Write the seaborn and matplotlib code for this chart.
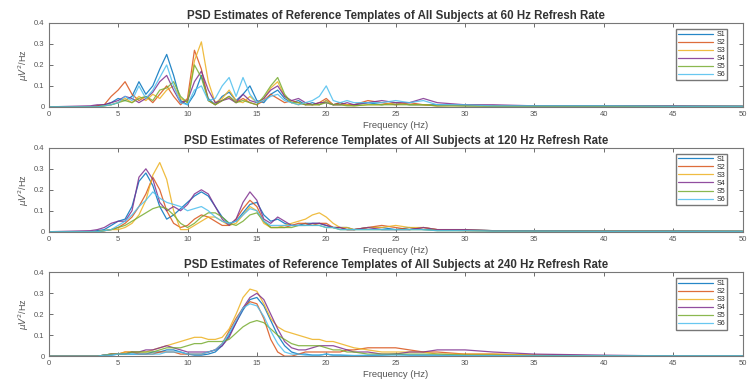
import numpy as np
import pandas as pd
import matplotlib
matplotlib.use('Agg')
import matplotlib.pyplot as plt
import seaborn as sns

sns.set_style('ticks')
plt.rcParams['font.family'] = ['Liberation Sans', 'DejaVu Sans']

# frequency grid (Hz), shared by all three panels
freq = [0, 3, 3.5,
        4, 4.5, 5, 5.5, 6, 6.5, 7, 7.5, 8,
        8.5, 9, 9.5, 10, 10.5, 11, 11.5, 12, 12.5,
        13, 13.5, 14, 14.5, 15, 15.5, 16, 16.5, 17,
        17.5, 18, 18.5, 19, 19.5, 20, 20.5, 21, 21.5, 22,
        23, 24, 25, 26, 27, 28, 30, 32, 35, 40, 45, 50]

subjects = ['S1', 'S2', 'S3', 'S4', 'S5', 'S6']
rates = ['60', '120', '240']

# 60 Hz refresh rate
psd_60 = {
    'S1': [0, 0, 0.005,
           0.01, 0.02, 0.04, 0.03, 0.05, 0.12, 0.06, 0.10, 0.18,
           0.25, 0.15, 0.03, 0.01, 0.06, 0.15, 0.04, 0.01, 0.05,
           0.07, 0.03, 0.06, 0.10, 0.03, 0.02, 0.06, 0.08, 0.04,
           0.02, 0.03, 0.01, 0.02, 0.01, 0.03, 0.01, 0.02, 0.01, 0.01,
           0.02, 0.01, 0.02, 0.01, 0.01, 0.01, 0.005, 0.005, 0.005, 0.005, 0.003, 0.003],
    'S2': [0, 0, 0.005,
           0.01, 0.05, 0.08, 0.12, 0.06, 0.03, 0.05, 0.02, 0.06,
           0.10, 0.05, 0.01, 0.04, 0.27, 0.18, 0.03, 0.01, 0.03,
           0.05, 0.02, 0.04, 0.02, 0.01, 0.03, 0.06, 0.04, 0.02,
           0.03, 0.02, 0.01, 0.01, 0.02, 0.04, 0.01, 0.02, 0.01, 0.01,
           0.03, 0.02, 0.01, 0.02, 0.01, 0.005, 0.01, 0.005, 0.005, 0.005, 0.003, 0.003],
    'S3': [0, 0, 0,
           0.005, 0.01, 0.02, 0.04, 0.02, 0.05, 0.03, 0.06, 0.04,
           0.08, 0.10, 0.04, 0.02, 0.22, 0.31, 0.12, 0.02, 0.04,
           0.08, 0.03, 0.02, 0.05, 0.02, 0.04, 0.09, 0.12, 0.05,
           0.02, 0.01, 0.02, 0.01, 0.01, 0.03, 0.01, 0.01, 0.01, 0.005,
           0.01, 0.01, 0.02, 0.01, 0.01, 0.005, 0.005, 0.005, 0.003, 0.003, 0.003, 0.002],
    'S4': [0, 0.005, 0.01,
           0.01, 0.02, 0.03, 0.05, 0.04, 0.02, 0.04, 0.07, 0.12,
           0.15, 0.08, 0.02, 0.03, 0.12, 0.17, 0.08, 0.02, 0.03,
           0.04, 0.02, 0.06, 0.03, 0.02, 0.04, 0.08, 0.10, 0.05,
           0.03, 0.04, 0.02, 0.01, 0.02, 0.02, 0.01, 0.01, 0.02, 0.01,
           0.02, 0.03, 0.02, 0.02, 0.04, 0.02, 0.01, 0.01, 0.005, 0.005, 0.005, 0.003],
    'S5': [0, 0, 0,
           0.005, 0.01, 0.02, 0.03, 0.02, 0.04, 0.05, 0.03, 0.08,
           0.09, 0.12, 0.05, 0.02, 0.20, 0.14, 0.03, 0.01, 0.03,
           0.05, 0.02, 0.03, 0.02, 0.01, 0.05, 0.10, 0.14, 0.06,
           0.02, 0.02, 0.01, 0.01, 0.01, 0.02, 0.01, 0.01, 0.005, 0.005,
           0.01, 0.01, 0.01, 0.01, 0.01, 0.005, 0.005, 0.003, 0.003, 0.003, 0.002, 0.002],
    'S6': [0, 0, 0,
           0.005, 0.01, 0.02, 0.05, 0.03, 0.10, 0.04, 0.08, 0.14,
           0.20, 0.10, 0.02, 0.01, 0.08, 0.10, 0.03, 0.04, 0.10,
           0.14, 0.05, 0.14, 0.06, 0.02, 0.03, 0.05, 0.06, 0.03,
           0.02, 0.01, 0.02, 0.03, 0.05, 0.10, 0.03, 0.02, 0.03, 0.02,
           0.02, 0.02, 0.03, 0.02, 0.03, 0.01, 0.01, 0.005, 0.005, 0.005, 0.003, 0.003],
}

# 120 Hz refresh rate
psd_120 = {
    'S1': [0, 0, 0.005,
           0.01, 0.03, 0.05, 0.06, 0.12, 0.24, 0.28, 0.22, 0.12,
           0.06, 0.08, 0.11, 0.14, 0.17, 0.19, 0.17, 0.12, 0.07,
           0.04, 0.05, 0.09, 0.13, 0.14, 0.08, 0.05, 0.06, 0.04,
           0.03, 0.03, 0.04, 0.04, 0.04, 0.03, 0.02, 0.02, 0.02, 0.01,
           0.02, 0.02, 0.01, 0.02, 0.01, 0.01, 0.01, 0.005, 0.005, 0.003, 0.003, 0.002],
    'S2': [0, 0, 0,
           0.005, 0.01, 0.02, 0.04, 0.07, 0.12, 0.18, 0.26, 0.20,
           0.10, 0.04, 0.02, 0.03, 0.06, 0.08, 0.07, 0.05, 0.03,
           0.03, 0.06, 0.11, 0.15, 0.12, 0.05, 0.02, 0.02, 0.02,
           0.03, 0.04, 0.04, 0.03, 0.04, 0.04, 0.02, 0.02, 0.01, 0.01,
           0.02, 0.03, 0.02, 0.01, 0.02, 0.01, 0.005, 0.005, 0.003, 0.003, 0.002, 0.002],
    'S3': [0, 0, 0,
           0.005, 0.01, 0.01, 0.02, 0.04, 0.08, 0.15, 0.27, 0.33,
           0.25, 0.10, 0.01, 0.01, 0.03, 0.05, 0.07, 0.07, 0.05,
           0.03, 0.04, 0.08, 0.12, 0.10, 0.04, 0.02, 0.02, 0.03,
           0.04, 0.05, 0.06, 0.08, 0.09, 0.07, 0.04, 0.02, 0.02, 0.01,
           0.02, 0.02, 0.03, 0.02, 0.02, 0.01, 0.01, 0.005, 0.005, 0.003, 0.003, 0.002],
    'S4': [0, 0.005, 0.01,
           0.02, 0.04, 0.05, 0.05, 0.10, 0.26, 0.30, 0.25, 0.14,
           0.10, 0.12, 0.10, 0.13, 0.18, 0.20, 0.18, 0.12, 0.06,
           0.03, 0.06, 0.14, 0.19, 0.15, 0.06, 0.04, 0.07, 0.05,
           0.03, 0.03, 0.03, 0.04, 0.04, 0.03, 0.02, 0.02, 0.01, 0.01,
           0.02, 0.01, 0.01, 0.01, 0.02, 0.01, 0.01, 0.005, 0.005, 0.003, 0.003, 0.002],
    'S5': [0, 0, 0,
           0.005, 0.01, 0.02, 0.03, 0.05, 0.07, 0.09, 0.11, 0.12,
           0.11, 0.08, 0.04, 0.02, 0.04, 0.07, 0.09, 0.09, 0.07,
           0.04, 0.03, 0.05, 0.08, 0.09, 0.05, 0.02, 0.02, 0.02,
           0.02, 0.03, 0.03, 0.03, 0.03, 0.02, 0.02, 0.01, 0.01, 0.01,
           0.01, 0.01, 0.01, 0.01, 0.01, 0.005, 0.005, 0.003, 0.003, 0.002, 0.002, 0.002],
    'S6': [0, 0, 0,
           0.005, 0.01, 0.03, 0.05, 0.08, 0.12, 0.15, 0.19, 0.16,
           0.14, 0.13, 0.12, 0.10, 0.11, 0.12, 0.10, 0.07, 0.05,
           0.04, 0.05, 0.08, 0.11, 0.10, 0.05, 0.03, 0.03, 0.03,
           0.03, 0.03, 0.03, 0.03, 0.03, 0.02, 0.02, 0.01, 0.01, 0.01,
           0.01, 0.01, 0.01, 0.01, 0.01, 0.005, 0.005, 0.003, 0.003, 0.002, 0.002, 0.002],
}

# 240 Hz refresh rate
psd_240 = {
    'S1': [0, 0, 0,
           0.005, 0.005, 0.01, 0.01, 0.01, 0.01, 0.01, 0.02, 0.02,
           0.03, 0.03, 0.02, 0.01, 0.005, 0.005, 0.01, 0.02, 0.05,
           0.10, 0.16, 0.22, 0.27, 0.28, 0.24, 0.17, 0.10, 0.05,
           0.02, 0.01, 0.01, 0.005, 0.005, 0.01, 0.005, 0.005, 0.003, 0.003,
           0.003, 0.005, 0.01, 0.005, 0.005, 0.005, 0.005, 0.003, 0.002, 0.001, 0.001, 0.001],
    'S2': [0, 0, 0,
           0.005, 0.01, 0.01, 0.02, 0.02, 0.01, 0.01, 0.01, 0.02,
           0.02, 0.02, 0.01, 0.01, 0.01, 0.01, 0.02, 0.03, 0.06,
           0.12, 0.18, 0.23, 0.26, 0.25, 0.18, 0.08, 0.02, 0.00,
           0.00, 0.01, 0.02, 0.02, 0.02, 0.02, 0.02, 0.02, 0.03, 0.03,
           0.04, 0.04, 0.04, 0.03, 0.02, 0.02, 0.01, 0.01, 0.005, 0.002, 0.001, 0.001],
    'S3': [0, 0, 0,
           0.005, 0.01, 0.01, 0.02, 0.02, 0.02, 0.02, 0.03, 0.04,
           0.05, 0.06, 0.07, 0.08, 0.09, 0.09, 0.08, 0.08, 0.09,
           0.13, 0.20, 0.28, 0.32, 0.31, 0.25, 0.18, 0.14, 0.12,
           0.11, 0.10, 0.09, 0.08, 0.08, 0.07, 0.07, 0.06, 0.05, 0.04,
           0.03, 0.02, 0.02, 0.02, 0.02, 0.01, 0.01, 0.01, 0.005, 0.002, 0.001, 0.001],
    'S4': [0, 0, 0,
           0.005, 0.01, 0.01, 0.01, 0.02, 0.02, 0.03, 0.03, 0.04,
           0.05, 0.04, 0.03, 0.02, 0.02, 0.02, 0.02, 0.03, 0.05,
           0.09, 0.16, 0.23, 0.28, 0.30, 0.27, 0.20, 0.13, 0.07,
           0.04, 0.03, 0.03, 0.04, 0.05, 0.05, 0.05, 0.04, 0.03, 0.02,
           0.02, 0.01, 0.01, 0.02, 0.02, 0.03, 0.03, 0.02, 0.01, 0.005, 0.001, 0.001],
    'S5': [0, 0, 0,
           0.005, 0.01, 0.01, 0.01, 0.02, 0.02, 0.02, 0.02, 0.03,
           0.04, 0.04, 0.04, 0.05, 0.06, 0.06, 0.07, 0.07, 0.07,
           0.08, 0.11, 0.14, 0.16, 0.17, 0.16, 0.13, 0.10, 0.08,
           0.06, 0.05, 0.05, 0.05, 0.05, 0.04, 0.03, 0.03, 0.02, 0.02,
           0.01, 0.01, 0.01, 0.01, 0.01, 0.01, 0.005, 0.005, 0.003, 0.002, 0.001, 0.001],
    'S6': [0, 0, 0,
           0.005, 0.005, 0.01, 0.01, 0.01, 0.01, 0.01, 0.01, 0.01,
           0.02, 0.02, 0.02, 0.01, 0.01, 0.01, 0.02, 0.03, 0.06,
           0.11, 0.17, 0.23, 0.25, 0.24, 0.19, 0.12, 0.06, 0.02,
           0.01, 0.01, 0.005, 0.005, 0.005, 0.01, 0.005, 0.005, 0.005, 0.003,
           0.005, 0.005, 0.005, 0.005, 0.005, 0.005, 0.003, 0.003, 0.002, 0.002, 0.002, 0.002],
}

# matlab default line colours
colors = ['#0072BD', '#D95319', '#EDB120', '#7E2F8E', '#77AC30', '#4DBEEE']

fig = plt.figure(figsize=(7.5, 3.83), dpi=100)
# axes boxes in figure fractions [left, bottom, width, height]
boxes = [[0.065, 0.721, 0.925, 0.219],
         [0.065, 0.395, 0.925, 0.219],
         [0.065, 0.070, 0.925, 0.219]]

for box, rate, psd in zip(boxes, rates, [psd_60, psd_120, psd_240]):
    ax = fig.add_axes(box)
    # long format table for seaborn
    df = pd.DataFrame({'freq': freq * len(subjects),
                       'psd': sum([psd[s] for s in subjects], []),
                       'subject': np.repeat(subjects, len(freq))})
    sns.lineplot(data=df, x='freq', y='psd', hue='subject', palette=colors,
                 linewidth=0.9, alpha=0.85, ax=ax)
    ax.set_xlim(0, 50)
    ax.set_ylim(0, 0.4)
    ax.set_xticks(range(0, 51, 5))
    ax.set_yticks([0, 0.1, 0.2, 0.3, 0.4])
    ax.set_yticklabels(['0', '0.1', '0.2', '0.3', '0.4'])
    ax.tick_params(direction='in', length=3, width=0.6, labelsize=5.5,
                   colors='#555555', top=True, right=True, pad=3)
    for sp in ax.spines.values():
        sp.set_color('#777777')
        sp.set_linewidth(0.8)
    ax.set_title('PSD Estimates of Reference Templates of All Subjects at ' + rate + ' Hz Refresh Rate',
                 fontsize=8.3, fontweight='bold', color='#333333', pad=3)
    ax.set_xlabel('Frequency (Hz)', fontsize=6.8, color='#555555', labelpad=2)
    ax.set_ylabel(r'$\mu V^2$/Hz', fontsize=6.5, color='#555555', labelpad=2)
    ax.legend(loc='upper right', bbox_to_anchor=(0.978, 0.93), borderaxespad=0,
              fontsize=5, handlelength=5, frameon=True, fancybox=False,
              edgecolor='#555555', labelspacing=0.15, borderpad=0.3,
              handletextpad=0.5, title=None)

plt.savefig('out.png', dpi=100)
